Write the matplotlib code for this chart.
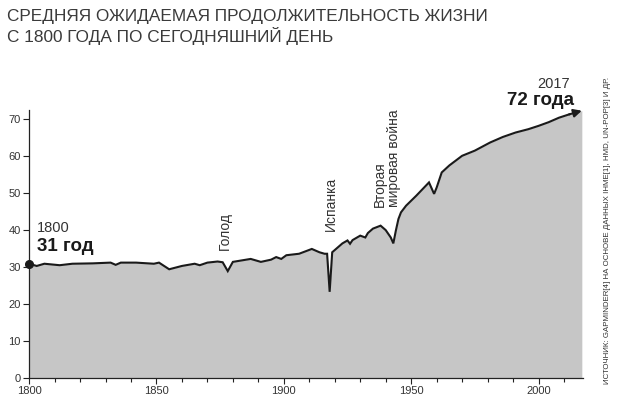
import numpy as np
import matplotlib
matplotlib.use("Agg")
import matplotlib.pyplot as plt
from matplotlib.ticker import MultipleLocator

# Средняя ожидаемая продолжительность жизни (мир)
years = [1800, 1803, 1806, 1812, 1817, 1825, 1832, 1834, 1836, 1842, 1849, 1851,
         1855, 1860, 1865, 1867, 1870, 1874, 1876, 1878, 1880, 1887, 1891, 1895,
         1897, 1899, 1901, 1906, 1911, 1914, 1916, 1917, 1918, 1919, 1922, 1923,
         1925, 1926, 1927, 1930, 1932, 1933, 1935, 1938, 1940, 1942, 1943, 1944,
         1945, 1946, 1948, 1952, 1957, 1959, 1960, 1962, 1965, 1970, 1975, 1981,
         1986, 1991, 1996, 2000, 2004, 2008, 2012, 2017]
life_exp = [30.9, 30.3, 30.9, 30.5, 30.9, 31.0, 31.2, 30.6, 31.2, 31.2, 30.9, 31.2,
            29.4, 30.3, 30.9, 30.5, 31.2, 31.5, 31.3, 28.9, 31.4, 32.2, 31.4, 32.0,
            32.7, 32.2, 33.2, 33.6, 34.9, 34.0, 33.6, 33.6, 23.3, 34.0, 35.8, 36.4,
            37.2, 36.3, 37.3, 38.5, 38.0, 39.2, 40.4, 41.2, 40.0, 38.0, 36.4, 39.9,
            43.0, 44.8, 46.6, 49.3, 52.9, 49.8, 51.5, 55.6, 57.5, 60.1, 61.5, 63.7,
            65.2, 66.4, 67.3, 68.2, 69.2, 70.4, 71.3, 72.3]

events = ["Голод", "Испанка", "Вторая\nмировая война"]
event_years = [1877.5, 1918, 1945]

GREY_TXT = "#333333"
plt.rcParams.update({
    "font.family": ["Liberation Sans", "DejaVu Sans"],
    "text.color": GREY_TXT,
    "axes.edgecolor": "#222222",
    "xtick.color": "#222222",
    "ytick.color": "#222222",
    "xtick.labelcolor": GREY_TXT,
    "ytick.labelcolor": GREY_TXT,
})

fig = plt.figure(figsize=(6.19, 3.97), dpi=100)
ax = fig.add_axes([0.047, 0.048, 0.895, 0.675])

ax.fill_between(years, life_exp, 0, color="#c6c6c6", lw=0)
ax.plot(years[:-1], life_exp[:-1], color="#1a1a1a", lw=1.5, solid_joinstyle="miter")
ax.annotate("", xy=(years[-1], life_exp[-1]), xytext=(years[-2], life_exp[-2]),
            arrowprops=dict(arrowstyle="-|>", color="#1a1a1a", lw=1.5,
                            mutation_scale=12, shrinkA=0, shrinkB=0))
ax.plot(years[0], life_exp[0], "o", color="#1a1a1a", ms=5.5, zorder=5, clip_on=False)

ax.set_xlim(1800, 2017.5)
ax.set_ylim(0, 72.5)
ax.xaxis.set_major_locator(MultipleLocator(50))
ax.xaxis.set_minor_locator(MultipleLocator(10))
ax.yaxis.set_major_locator(MultipleLocator(10))
ax.tick_params(axis="both", which="major", length=4, width=0.8, labelsize=8, pad=2)
ax.tick_params(axis="x", which="minor", length=3, width=0.8)
ax.spines[["top", "right"]].set_visible(False)
ax.spines[["left", "bottom"]].set_linewidth(0.9)

# подписи начала и конца
ax.text(1803, 38.8, "1800", fontsize=10.5, ha="left", va="bottom")
ax.text(1803, 33.2, "31 год", fontsize=13.5, fontweight="bold", ha="left", va="bottom",
        color="#1a1a1a")
ax.text(2012.5, 77.5, "2017", fontsize=10.5, ha="right", va="bottom", clip_on=False)
ax.text(2014, 72.8, "72 года", fontsize=13.5, fontweight="bold", ha="right", va="bottom",
        color="#1a1a1a", clip_on=False)

# события
ax.text(event_years[0] - 0.5, 34.5, events[0], rotation=90, fontsize=10,
        ha="center", va="bottom")
ax.text(event_years[1] + 0.5, 39.8, events[1], rotation=90, fontsize=10,
        ha="center", va="bottom")
ax.text(event_years[2] - 4.5, 46.3, events[2], rotation=90, fontsize=10,
        ha="center", va="bottom", multialignment="left", linespacing=1.05)

fig.text(0.012, 0.978, "СРЕДНЯЯ ОЖИДАЕМАЯ ПРОДОЛЖИТЕЛЬНОСТЬ ЖИЗНИ\n"
         "С 1800 ГОДА ПО СЕГОДНЯШНИЙ ДЕНЬ", fontsize=12.4, ha="left", va="top",
         linespacing=1.2, color="#3a3a3a")

fig.text(0.981, 0.42, "ИСТОЧНИК: GAPMINDER[4] НА ОСНОВЕ ДАННЫХ IHME[1], HMD, UN-POP[3] И ДР.",
         rotation=90, fontsize=5.65, ha="center", va="center", color="#333333")

fig.savefig("out.png", dpi=100, facecolor="white")
